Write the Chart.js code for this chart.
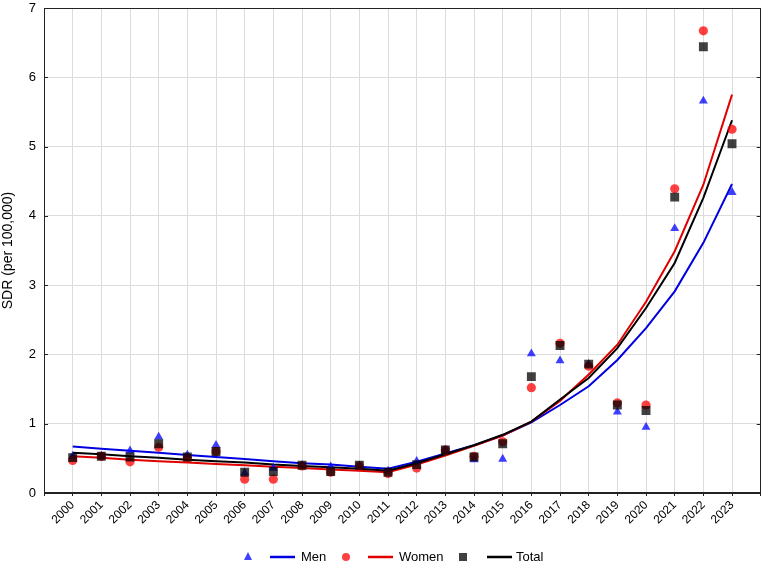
<!DOCTYPE html>
<html>
<head>
<meta charset="utf-8">
<script src="https://cdn.jsdelivr.net/npm/chart.js@4.4.0/dist/chart.umd.min.js"></script>
<style>
  html, body { margin: 0; padding: 0; background: #fff; }
  #wrap { width: 767px; height: 565px; }
</style>
</head>
<body>
<div id="wrap"><canvas id="chart" width="767" height="565"></canvas></div>
<script>
const years = ["2000","2001","2002","2003","2004","2005","2006","2007","2008","2009","2010","2011",
               "2012","2013","2014","2015","2016","2017","2018","2019","2020","2021","2022","2023"];

// observed rates (points)
const menObs   = [0.53,0.53,0.61,0.81,0.55,0.69,0.29,0.36,0.40,0.38,0.39,0.32,0.46,0.62,0.48,0.49,2.01,1.91,1.86,1.17,0.95,3.82,5.66,4.34];
const womenObs = [0.47,0.53,0.45,0.66,0.50,0.60,0.20,0.20,0.39,0.30,0.39,0.28,0.36,0.62,0.53,0.74,1.52,2.16,1.83,1.30,1.27,4.39,6.67,5.25];
const totalObs = [0.51,0.53,0.52,0.71,0.52,0.60,0.30,0.31,0.40,0.31,0.40,0.30,0.41,0.62,0.52,0.71,1.68,2.13,1.86,1.27,1.19,4.27,6.44,5.04];

// fitted trends (lines)
const menFit   = [0.67,0.64,0.61,0.58,0.55,0.52,0.49,0.46,0.43,0.41,0.38,0.35,0.45,0.57,0.69,0.83,1.02,1.27,1.54,1.92,2.38,2.91,3.61,4.46];
const womenFit = [0.53,0.51,0.48,0.46,0.44,0.42,0.40,0.38,0.36,0.34,0.32,0.30,0.41,0.54,0.68,0.83,1.03,1.33,1.71,2.14,2.76,3.49,4.45,5.75];
const totalFit = [0.58,0.56,0.53,0.51,0.48,0.46,0.44,0.41,0.39,0.37,0.35,0.32,0.43,0.56,0.69,0.84,1.03,1.35,1.66,2.09,2.67,3.32,4.26,5.38];

const yTicks = [0, 1, 2, 3, 4, 5, 6, 7];

const FONT = "'Liberation Sans', Arial, sans-serif";
const C = {
  menPt: "rgba(0,0,255,0.75)", womenPt: "rgba(255,0,0,0.75)", totalPt: "rgba(0,0,0,0.75)",
  men: "#0000e0", women: "#e00000", total: "#000000",
  grid: "#dcdcdc", axis: "#222222"
};

const pts = arr => arr.map((v, i) => ({ x: i, y: v }));

// legend drawn under the plot, plus the closed frame and inner tick marks
const extras = {
  id: "extras",
  afterDraw(chart) {
    const { ctx, chartArea: a, scales: { y } } = chart;
    ctx.save();
    ctx.strokeStyle = C.axis;
    ctx.lineWidth = 1;
    ctx.strokeRect(Math.round(a.left) + 0.5, Math.round(a.top) + 0.5,
                   Math.round(a.right - a.left) - 1, Math.round(a.bottom - a.top) - 1);
    ctx.beginPath();
    yTicks.slice(1, -1).forEach(t => {
      const py = Math.round(y.getPixelForValue(t)) + 0.5;
      ctx.moveTo(a.left, py); ctx.lineTo(a.left + 4, py);
      ctx.moveTo(a.right - 4, py); ctx.lineTo(a.right, py);
    });
    ctx.stroke();

    const ly = 557;
    const items = [
      { shape: "triangle", fill: C.menPt,   x: 248, line: C.men,   lx: 270, tx: 301, text: "Men" },
      { shape: "circle",   fill: C.womenPt, x: 346, line: C.women, lx: 368, tx: 399, text: "Women" },
      { shape: "rect",     fill: C.totalPt, x: 463, line: C.total, lx: 487, tx: 516, text: "Total" }
    ];
    ctx.font = "13px " + FONT;
    ctx.textBaseline = "middle";
    ctx.textAlign = "left";
    items.forEach(it => {
      ctx.fillStyle = it.fill;
      ctx.beginPath();
      if (it.shape === "triangle") {
        ctx.moveTo(it.x, ly - 5); ctx.lineTo(it.x + 4, ly + 3); ctx.lineTo(it.x - 4, ly + 3); ctx.closePath();
      } else if (it.shape === "circle") {
        ctx.arc(it.x, ly, 4, 0, Math.PI * 2);
      } else {
        ctx.rect(it.x - 4, ly - 4, 8, 8);
      }
      ctx.fill();
      ctx.strokeStyle = it.line;
      ctx.lineWidth = 2.5;
      ctx.beginPath();
      ctx.moveTo(it.lx, ly); ctx.lineTo(it.lx + 25, ly);
      ctx.stroke();
      ctx.fillStyle = "#000";
      ctx.fillText(it.text, it.tx, ly);
    });
    ctx.restore();
  }
};

new Chart(document.getElementById("chart"), {
  type: "scatter",
  data: {
    datasets: [
      { label: "Total obs", data: pts(totalObs), pointStyle: "rect", pointRadius: 6.3,
        backgroundColor: C.totalPt, borderWidth: 0, order: 0 },
      { label: "Women obs", data: pts(womenObs), pointStyle: "circle", pointRadius: 4.6,
        backgroundColor: C.womenPt, borderWidth: 0, order: 1 },
      { label: "Men obs", data: pts(menObs), pointStyle: "triangle", pointRadius: 5.2,
        backgroundColor: C.menPt, borderWidth: 0, order: 2 },
      { label: "Total", data: pts(totalFit), showLine: true, borderColor: C.total, borderWidth: 2,
        pointRadius: 0, tension: 0, order: 3 },
      { label: "Women", data: pts(womenFit), showLine: true, borderColor: C.women, borderWidth: 2,
        pointRadius: 0, tension: 0, order: 4 },
      { label: "Men", data: pts(menFit), showLine: true, borderColor: C.men, borderWidth: 2,
        pointRadius: 0, tension: 0, order: 5 }
    ]
  },
  options: {
    responsive: false,
    animation: false,
    devicePixelRatio: 1,
    layout: { padding: { left: 0, right: 5, top: 8, bottom: 0 } },
    plugins: { legend: { display: false }, tooltip: { enabled: false } },
    scales: {
      x: {
        type: "linear", min: -1, max: 24,
        grid: { color: C.grid, drawTicks: true, tickLength: 3, tickColor: C.axis },
        border: { color: C.axis },
        ticks: {
          stepSize: 1, autoSkip: false, minRotation: 45, maxRotation: 45, padding: 2,
          color: "#000", font: { size: 12, family: FONT },
          callback: v => years[v] ?? ""
        },
        afterFit: s => { s.height = 72; s.paddingLeft = 0; s.paddingRight = 0; }
      },
      y: {
        min: 0, max: 7,
        grid: { color: C.grid, drawTicks: false },
        border: { color: C.axis },
        ticks: { stepSize: 1, padding: 8, color: "#000", font: { size: 13, family: FONT } },
        title: { display: true, text: "SDR (per 100,000)", color: "#000",
                 font: { size: 14, family: FONT }, padding: { top: 0, bottom: 0 } },
        afterFit: s => { s.width = 44; s.paddingTop = 0; s.paddingBottom = 0; }
      }
    }
  },
  plugins: [extras]
});
</script>
</body>
</html>
